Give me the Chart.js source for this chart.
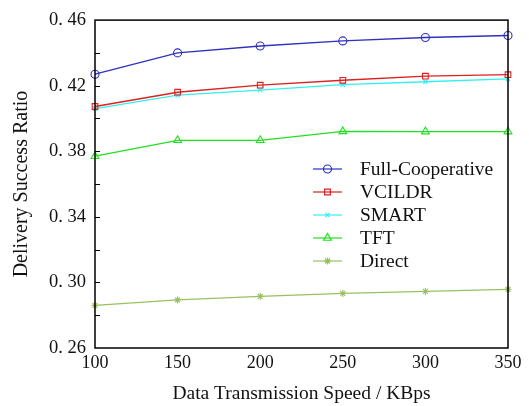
<!DOCTYPE html>
<html>
<head>
<meta charset="utf-8">
<script src="https://cdn.jsdelivr.net/npm/chart.js@4"></script>
<style>
html,body{margin:0;padding:0;background:#fff;}
#wrap{width:529px;height:406px;}
</style>
</head>
<body>
<div id="wrap"><canvas id="canvas" width="529" height="406"></canvas></div>
<script>
const speeds=[100,150,200,250,300,350];
const fullCoop=[0.427,0.440,0.4442,0.4473,0.4494,0.4506];
const vcildr=[0.4073,0.416,0.4203,0.4233,0.4258,0.4267];
const smart=[0.406,0.4142,0.4173,0.4206,0.4224,0.4242];
const tft=[0.377,0.3867,0.3867,0.3921,0.392,0.392];
const direct=[0.286,0.2894,0.2915,0.2933,0.2945,0.2958];
const yTicks=[0.26,0.30,0.34,0.38,0.42,0.46];
const sideTicks=[0.28,0.30,0.32,0.34,0.36,0.38,0.40,0.42,0.44];

const serif="'Liberation Serif','DejaVu Serif',serif";

function pts(vals){
    return speeds.map((x,i)=>({x:x,y:vals[i]}));
}
function ds(label,vals,color,style,r){
    return {
        label:label,
        data:pts(vals),
        borderColor:color,
        backgroundColor:'rgba(0,0,0,0)',
        pointBorderColor:color,
        pointBackgroundColor:'rgba(0,0,0,0)',
        pointStyle:style,
        pointRadius:r,
        pointBorderWidth:1.1,
        borderWidth:1.3,
        tension:0,
        clip:false
    };
}

// frame, small ticks and legend drawn on top
const extras={
    id:'extras',
    afterDraw(chart){
        const c=chart.ctx;
        const a=chart.chartArea;
        const y=chart.scales.y;
        c.save();
        c.strokeStyle='#000';
        c.lineWidth=1.5;
        c.strokeRect(a.left,a.top,a.right-a.left,a.bottom-a.top);
        c.lineWidth=1;
        sideTicks.forEach(v=>{
            const py=Math.round(y.getPixelForValue(v))+0.5;
            c.beginPath();
            c.moveTo(a.left,py);
            c.lineTo(a.left+5,py);
            c.stroke();
        });
        // legend
        const lx=313,tx=360;
        let ly=169;
        c.font='19.5px '+serif;
        c.textBaseline='middle';
        chart.data.datasets.forEach(d=>{
            c.strokeStyle=d.borderColor;
            c.fillStyle='rgba(0,0,0,0)';
            c.lineWidth=1.2;
            c.beginPath();
            c.moveTo(lx,ly);
            c.lineTo(lx+29,ly);
            c.stroke();
            Chart.helpers.drawPoint(c,{pointStyle:d.pointStyle,radius:d.pointRadius,borderWidth:1.1,rotation:0},lx+14.5,ly);
            c.fillStyle='#111';
            c.fillText(d.label,tx,ly+1);
            ly+=23;
        });
        c.restore();
    }
};

new Chart(document.getElementById('canvas'),{
    type:'line',
    data:{
        datasets:[
            ds('Full-Cooperative',fullCoop,'#2f2fc0','circle',4),
            ds('VCILDR',vcildr,'#dd2020','rect',4),
            ds('SMART',smart,'#33f0f0','crossRot',3),
            ds('TFT',tft,'#22e022','triangle',4.5),
            ds('Direct',direct,'#99c060','star',3.5)
        ]
    },
    options:{
        responsive:false,
        animation:false,
        layout:{padding:{left:6,right:21,top:18,bottom:0}},
        plugins:{legend:{display:false},tooltip:{enabled:false}},
        scales:{
            x:{
                type:'linear',
                min:100,max:350,
                border:{display:false},
                grid:{display:false,drawTicks:false},
                ticks:{stepSize:50,color:'#111',font:{family:serif,size:18},padding:4,maxRotation:0},
                title:{display:true,text:'Data Transmission Speed / KBps',color:'#111',font:{family:serif,size:19.5},padding:{top:12,bottom:0}},
                afterFit(s){s.height=58;}
            },
            y:{
                min:0.26,max:0.46,
                border:{display:false},
                grid:{display:false,drawTicks:false},
                afterBuildTicks(s){s.ticks=yTicks.map(v=>({value:v}));},
                ticks:{
                    color:'#111',
                    font:{family:serif,size:18.5},
                    padding:9,
                    callback:v=>v.toFixed(2).replace('.','. ')
                },
                title:{display:true,text:'Delivery Success Ratio',color:'#111',font:{family:serif,size:20},padding:{bottom:4}},
                afterFit(s){s.width=89;}
            }
        }
    },
    plugins:[extras]
});
</script>
</body>
</html>
